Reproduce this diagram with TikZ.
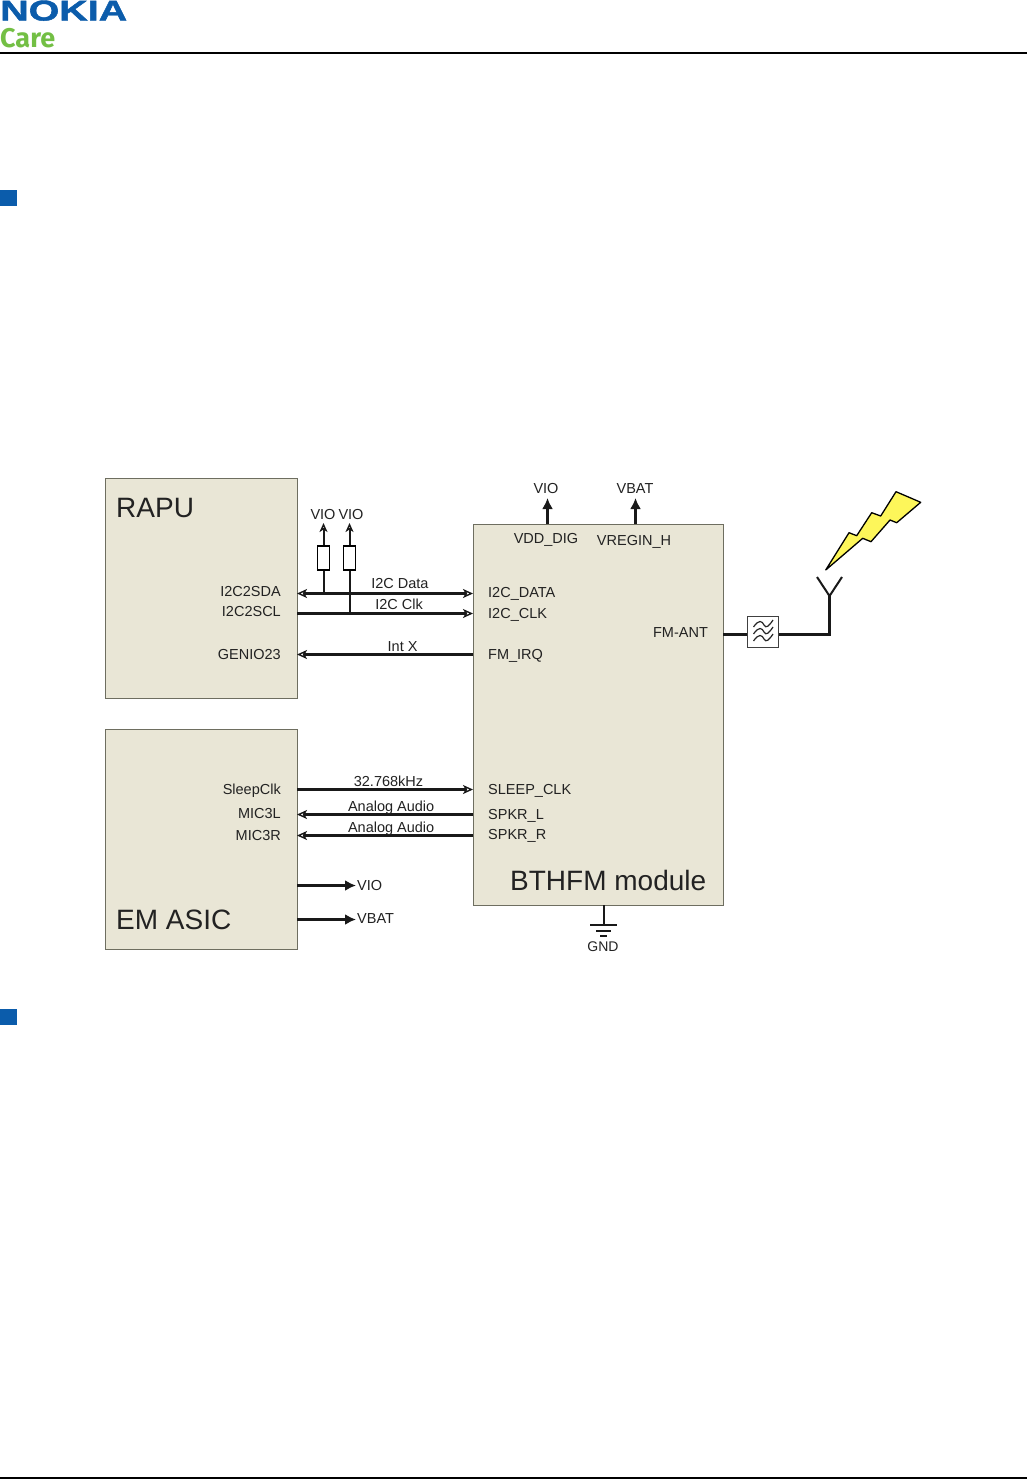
\documentclass[tikz,border=0pt]{standalone}
\usepackage{fontspec}
\setmainfont{Liberation Sans}
\newfontfamily\carefont{Fira Sans}
\newfontfamily\nokiafont[FakeBold=1.5]{Liberation Sans Bold}
\usetikzlibrary{arrows.meta}
\definecolor{boxfill}{HTML}{E9E6D6}
\definecolor{boxline}{HTML}{6E6E60}
\definecolor{nokiablue}{HTML}{0B5CAB}
\definecolor{caregreen}{HTML}{73BF44}
\definecolor{txt}{HTML}{222222}
\definecolor{boltyellow}{HTML}{FDF65A}
\tikzset{
  x=1pt,y=-1pt,
  block/.style={draw=boxline,fill=boxfill,line width=1pt},
  lab/.style={font=\fontsize{14.5}{14.5}\selectfont,text=txt,inner sep=0pt},
  big/.style={font=\fontsize{28}{28}\selectfont,text=txt,inner sep=0pt,anchor=west},
  wire/.style={line width=2.3pt,black!90},
  thin wire/.style={line width=2pt,black!90},
  tipo/.style={-{Stealth[length=10pt,width=9pt,open,fill=white,line width=1.4pt,inset=2.5pt]}},
  tipf/.style={-{Latex[length=11pt,width=11pt]}},
  tipb/.style={{Stealth[length=10pt,width=9pt,open,fill=white,line width=1.4pt,inset=2.5pt]}-{Stealth[length=10pt,width=9pt,open,fill=white,line width=1.4pt,inset=2.5pt]}},
  tipv/.style={-{Stealth[length=9pt,width=8pt,open,fill=white,line width=1.4pt,inset=2.5pt]}},
  resistor/.style={draw=black,fill=white,line width=1.4pt,minimum width=12pt,minimum height=24pt,inner sep=0pt}
}
\begin{document}
\begin{tikzpicture}
\useasboundingbox (0,0) rectangle (1027,1479);
\fill[white] (0,0) rectangle (1027,1479);
% header
\node[anchor=south west,inner sep=0pt,text=nokiablue] (nokia) at (0,21) {\resizebox{127pt}{20pt}{\nokiafont NOKIA}};
\node[anchor=west,inner sep=0pt,text=caregreen,font=\carefont\bfseries\fontsize{27}{27}\selectfont] (care) at (0,38) {Care};
\draw[line width=2pt,black] (0,53) -- (1027,53);
\draw[line width=2pt,black] (0,1478) -- (1027,1478);
\fill[nokiablue] (0,190) rectangle (17,206);
\fill[nokiablue] (0,1009) rectangle (17,1025);
% blocks
\draw[block] (105,478) rectangle (297,698);
\draw[block] (105,729) rectangle (297,949);
\draw[block] (473,524) rectangle (723,905);
\node[big] (rapu) at (116,508) {RAPU};
\node[big] (em) at (116,920) {EM ASIC};
\node[big] (bthfm) at (510,880) {BTHFM module};
% left pins
\foreach \n/\t/\y in {p1/I2C2SDA/592,p2/I2C2SCL/612,p3/GENIO23/654.5,p4/SleepClk/791,p5/MIC3L/813,p6/MIC3R/835.5}
  \node[lab,anchor=east] (\n) at (281,\y) {\t};
% right pins
\foreach \n/\t/\y in {q1/I2C\_DATA/593.5,q2/I2C\_CLK/614.5,q3/FM\_IRQ/655.5,q4/SLEEP\_CLK/791,q5/SPKR\_L/816,q6/SPKR\_R/835.5}
  \node[lab,anchor=west] (\n) at (488,\y) {\t};
\node[lab] (vdd) at (546,540) {VDD\_DIG};
\node[lab] (vreg) at (634,541.5) {VREGIN\_H};
\node[lab] (fmant) at (680.5,633) {FM-ANT};
% signal endpoints
\coordinate (a1) at (297,593.5); \coordinate (b1) at (473,593.5);
\coordinate (a2) at (297,613.5); \coordinate (b2) at (473,613.5);
\coordinate (a3) at (297,654.5); \coordinate (b3) at (473,654.5);
\coordinate (a4) at (297,789.5); \coordinate (b4) at (473,789.5);
\coordinate (a5) at (297,814.5); \coordinate (b5) at (473,814.5);
\coordinate (a6) at (297,835.5); \coordinate (b6) at (473,835.5);
\draw[wire,tipb] (a1) -- node[lab,pos=.585,above=3.5pt] {I2C Data} (b1);
\draw[wire,tipo] (a2) -- node[lab,pos=.58,above=3pt] {I2C Clk} (b2);
\draw[wire,tipo] (b3) -- node[lab,pos=.40,above=1.5pt] {Int X} (a3);
\draw[wire,tipo] (a4) -- node[lab,pos=.52,above=1.5pt] {32.768kHz} (b4);
\draw[wire,tipo] (b5) -- node[lab,pos=.465,above=-1pt] {Analog Audio} (a5);
\draw[wire,tipo] (b6) -- node[lab,pos=.465,above=-1.5pt] {Analog Audio} (a6);
% pull-ups
\node[resistor] (r1) at (323.5,558) {};
\node[resistor] (r2) at (349.5,558) {};
\node[lab] (v1) at (323,515) {VIO};
\node[lab] (v2) at (351,515) {VIO};
\coordinate (j1) at (r1 |- a1);
\coordinate (j2) at (r2 |- a2);
\coordinate (t1) at (323.5,523);
\coordinate (t2) at (349.5,523);
\draw[thin wire] (j1) -- (r1.south);
\draw[thin wire] (j2) -- (r2.south);
\draw[thin wire,tipv] (r1.north) -- (t1);
\draw[thin wire,tipv] (r2.north) -- (t2);
% top supply
\node[lab] (vio) at (546,488.5) {VIO};
\node[lab] (vbat) at (635,488.5) {VBAT};
\coordinate (s1) at (547.5,524); \coordinate (s2) at (635.5,524);
\draw[wire,tipf] (s1) -- (547.5,498);
\draw[wire,tipf] (s2) -- (635.5,498);
% EM outputs
\node[lab,anchor=west] (evio) at (357,885) {VIO};
\node[lab,anchor=west] (evbat) at (357,919) {VBAT};
\coordinate (e1) at (297,885.5); \coordinate (e2) at (297,919.5);
\coordinate (f1) at (356,885.5); \coordinate (f2) at (356,919.5);
\draw[wire,tipf] (e1) -- (f1);
\draw[wire,tipf] (e2) -- (f2);
% ground
\coordinate (g0) at (603.5,905); \coordinate (g1) at (603.5,924.5);
\draw[line width=2pt,black!90] (g0) -- (g1);
\draw[line width=2pt,black!90] (590,924.5) -- (617,924.5);
\draw[line width=2pt,black!90] (596,930.5) -- (611,930.5);
\draw[line width=2pt,black!90] (600,935.5) -- (607,935.5);
\node[lab,font=\fontsize{14}{14}\selectfont] (gnd) at (603,946.5) {GND};
% filter
\node[draw=black!75,fill=white,line width=1pt,minimum size=31pt,inner sep=0pt] (filt) at (763,631.5) {};
\foreach \dy in {-7,0,7}
  \draw[line width=1.2pt,black!85] (753.5,632+\dy+2) .. controls (759,632+\dy-6) and (762,632+\dy-4) .. (764,632+\dy) .. controls (766,632+\dy+4) and (769,632+\dy+1) .. (773,632+\dy-5);
% antenna
\coordinate (ant) at (829.5,596);
\coordinate (w0) at (723,634.5);
\coordinate (w1) at (747,634.5);
\coordinate (w2) at (779,634.5);
\coordinate (w3) at (829.5,634.5);
\draw[wire] (w0) -- (w1);
\draw[wire,line join=miter] (w2) -- (w3) -- (ant);
\draw[line width=2pt,black!90] (817,577) -- (ant) -- (842,577);
% bolt
\draw[fill=boltyellow,draw=black,line width=1.3pt,line join=round]
 (825.7,570) -- (849,532.7) -- (856.7,535.7) -- (871.7,512.7) -- (880.7,516) -- (896,491.7) -- (920.7,502.3) -- (896.7,522.7) -- (890,520) -- (871,541.7) -- (862.7,538.3) -- cycle;
\end{tikzpicture}
\end{document}
